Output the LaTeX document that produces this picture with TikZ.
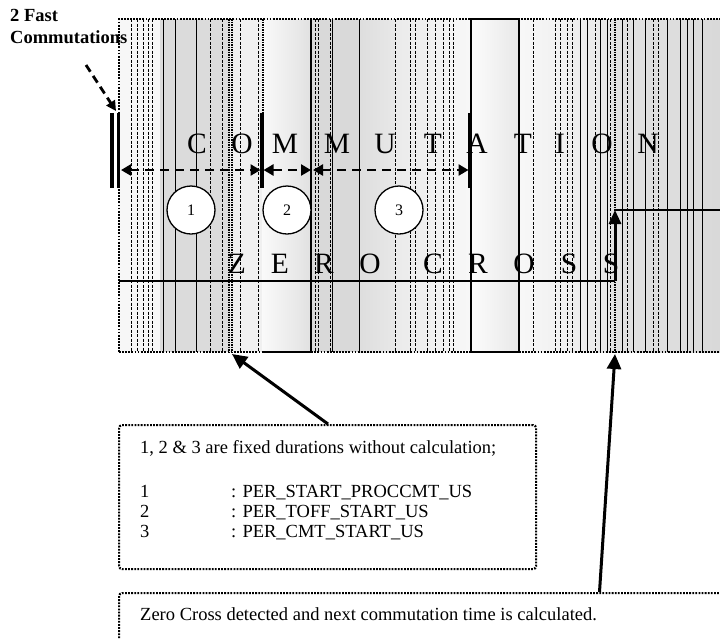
\documentclass[tikz,border=0pt]{standalone}
\usepackage{fontspec}
\setmainfont{Liberation Serif}
\usetikzlibrary{arrows.meta}
\begin{document}
\begin{tikzpicture}[x=1pt,y=-1pt,
  bigletter/.style={font=\fontsize{29.5}{30}\selectfont, anchor=base, inner sep=0pt},
  boxtext/.style={font=\fontsize{18.5}{20}\selectfont, anchor=base west, inner sep=0pt},
  vsolid/.style={line width=0.8pt},
  vdash/.style={line width=0.6pt, dash pattern=on 3pt off 1.5pt},
  vheavy/.style={line width=2pt, dash pattern=on 1.5pt off 1pt},
  frameline/.style={line width=2.2pt, dash pattern=on 1.8pt off 1.3pt},
  durarrow/.style={line width=2.8pt, dash pattern=on 9pt off 6pt,
     {Triangle[length=10pt,width=11pt]}-{Triangle[length=10pt,width=11pt]}},
  bar/.style={line width=3.5pt},
  ptr/.style={line width=3pt, -{Triangle[length=15pt,width=14pt]}},
  numcircle/.style={circle, draw, fill=white, line width=1.3pt, minimum size=48pt,
     inner sep=0pt, font=\fontsize{16}{16}\selectfont}]
\useasboundingbox (0,0) rectangle (720,638);

% background bands
\fill[black!3] (119,19) rectangle (160,352);
\fill[black!14] (160,19) rectangle (230,352);
\fill[black!6] (230,19) rectangle (262,352);
\shade[left color=black!2, right color=black!12] (262,19) rectangle (312,352);
\fill[black!15] (312,19) rectangle (360,352);
\shade[left color=black!13, right color=black!9] (360,19) rectangle (396,352);
\shade[left color=black!8, right color=black!3] (396,19) rectangle (470,352);
\shade[left color=black!1, right color=black!9] (470,19) rectangle (519,352);
\shade[left color=black!3, right color=black!9] (519,19) rectangle (610,352);
\shade[left color=black!11, right color=black!15] (610,19) rectangle (720,352);

% vertical lines
\foreach \x in {163,175,196,332,359,580,587,600,607,622,633,645,667,680,687,693,702}
  \draw[vsolid] (\x,19) -- (\x,352);
\foreach \x in {131,137,143,148,152,210,222,240,258,315,318,330,395,410,415,427,435,443,449,453,533,555,560,567,572,595,610,627,653,658}
  \draw[vdash] (\x,19) -- (\x,352);
\foreach \x in {229,232,615}
  \draw[vheavy] (\x,19) -- (\x,352);

% boxes inside the frame
\draw[vheavy] (263,19) -- (263,113);
\draw[line width=1.2pt] (263,352) -- (311,352) -- (311,19);
\draw[line width=1.2pt] (471,19) rectangle (519,352);

% outer frame
\draw[frameline] (119,352) -- (119,19) -- (722,19);
\draw[frameline] (119,352) -- (722,352);

% zero cross line
\coordinate (zcL) at (119,281);
\coordinate (zcA) at (615,281);
\coordinate (zcT) at (615,210);
\coordinate (zcR) at (722,210);
\draw[line width=1.4pt] (zcL) -- (zcA);
\draw[line width=3pt, -{Triangle[length=14pt,width=12pt]}] (zcA) -- (zcT);
\draw[line width=1.4pt] (zcT) -- (zcR);

% COMMUTATION letters
\foreach \l/\x [count=\i] in {C/197,O/242,M/285,M/337,U/385,T/433,A/477,T/523,I/560,O/602,N/648}
  \node[bigletter] (cm\i) at (\x,153) {\l};
% ZERO CROSS letters
\foreach \l/\x [count=\i] in {Z/237,E/280,R/324,O/370,C/433,R/478,O/524,S/569,S/611}
  \node[bigletter] (zc\i) at (\x,273) {\l};

% thick bars
\coordinate (b0t) at (112,113); \coordinate (b0b) at (112,188);
\coordinate (b1t) at (118.5,113); \coordinate (b1b) at (118.5,188);
\coordinate (b2t) at (262,113); \coordinate (b2b) at (262,188);
\coordinate (b3t) at (470,113); \coordinate (b3b) at (470,188);
\draw[bar] (b0t) -- (b0b);
\draw[bar] (b1t) -- (b1b);
\draw[bar] (b2t) -- (b2b);
\draw[bar] (b3t) -- (b3b);

% duration arrows
\coordinate (d1a) at (121,170); \coordinate (d1b) at (260.5,170);
\coordinate (d2a) at (263.5,170); \coordinate (d2b) at (311,170);
\coordinate (d3a) at (313,170); \coordinate (d3b) at (468.5,170);
\draw[durarrow] (d1a) -- (d1b);
\draw[durarrow] (d2a) -- (d2b);
\draw[durarrow] (d3a) -- (d3b);

% circles
\node[numcircle] (c1) at (191,210) {1};
\node[numcircle] (c2) at (287,210) {2};
\node[numcircle] (c3) at (399,210) {3};

% 2 Fast Commutations
\node[anchor=north west, inner sep=0pt, align=left,
      font=\fontsize{18.5}{22.5}\selectfont\bfseries] (fast) at (10,9) {2 Fast\\Commutations};
\coordinate (fs) at (86,65);
\coordinate (fe) at (116,111);
\draw[line width=2.8pt, dash pattern=on 8pt off 5pt, -{Triangle[length=10pt,width=10pt]}] (fs) -- (fe);

% text boxes
\node[draw, frameline, rounded corners=3pt, minimum width=417pt, minimum height=144pt,
      inner sep=0pt, anchor=north west] (box1) at (118,424) {};
\node[draw, frameline, rounded corners=3pt, minimum width=640pt, minimum height=90pt,
      inner sep=0pt, anchor=north west] (box2) at (118,592) {};

\node[boxtext] (t0) at (140,453) {1, 2 \& 3 are fixed durations without calculation;};
\node[boxtext] (n1) at (140,497) {1};
\node[boxtext] (n2) at (140,517) {2};
\node[boxtext] (n3) at (140,537) {3};
\node[boxtext] (v1) at (231,497) {: PER\_START\_PROCCMT\_US};
\node[boxtext] (v2) at (231,517) {: PER\_TOFF\_START\_US};
\node[boxtext] (v3) at (231,537) {: PER\_CMT\_START\_US};
\node[boxtext] (t2) at (140,620) {Zero Cross detected and next commutation time is calculated.};

% pointer arrows
\coordinate (p1s) at (328,424);
\coordinate (p1e) at (232,354);
\coordinate (p2s) at (599.5,592);
\coordinate (p2e) at (615,354);
\draw[ptr] (p1s) -- (p1e);
\draw[ptr] (p2s) -- (p2e);
\end{tikzpicture}
\end{document}
